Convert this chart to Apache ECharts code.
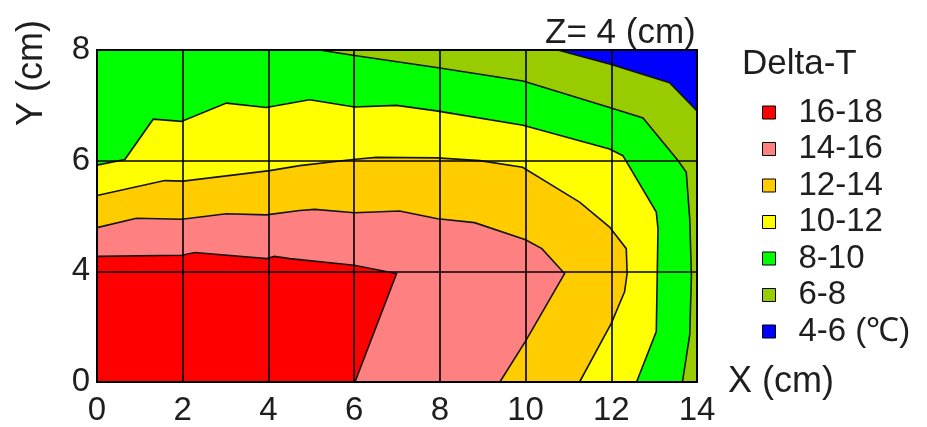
<!DOCTYPE html>
<html>
<head>
<meta charset="utf-8">
<script src="https://cdn.jsdelivr.net/npm/echarts@6/dist/echarts.min.js"></script>
<style>html,body{margin:0;padding:0;background:#fff;}#c{width:927px;height:427px;}</style>
</head>
<body>
<div id="c"></div>
<script>
// ---- data ----
const xTicks = [0, 2, 4, 6, 8, 10, 12, 14];
const yTicks = [0, 4, 6, 8];           // y rows (cm), drawn evenly spaced
const bandNames = ['16-18', '14-16', '12-14', '10-12', '8-10', '6-8', '4-6 (℃)'];
// contour lines [x cm, y cm], lower bound of each band
const contour16 = [[0,4.27],[1.98,4.29],[2.28,4.34],[3.96,4.23],[4.14,4.27],[4.5,4.23],[6.0,4.11],[6.99,3.92],[6.02,0]];
const contour14 = [[0,4.79],[0.92,4.96],[1.98,4.94],[3.02,5.04],[3.95,5.02],[4.73,5.10],[5.08,5.12],[6.01,5.06],[7.06,5.09],[7.95,4.95],[8.81,4.88],[10.0,4.57],[10.38,4.41],[10.91,3.92],[10.0,1.48],[9.40,0]];
const contour12 = [[0,5.37],[1.58,5.64],[2.01,5.63],[4.03,5.82],[4.73,5.91],[5.97,6.02],[6.52,6.06],[7.93,6.05],[8.93,6.00],[9.93,5.88],[11.26,5.25],[11.73,4.95],[11.96,4.80],[12.35,4.41],[12.37,3.92],[12.31,3.26],[12.0,2.12],[11.26,0]];
const contour10 = [[0,5.92],[0.65,6.02],[1.31,6.75],[1.97,6.71],[3.02,7.04],[3.95,6.96],[4.96,7.10],[6.01,6.97],[6.99,7.00],[7.92,6.90],[9.94,6.64],[11.96,6.21],[12.27,6.09],[13.05,5.07],[13.09,4.77],[13.05,1.82],[12.59,0]];
const contour8 = [[5.19,8],[6.01,7.90],[7.96,7.68],[9.94,7.44],[11.96,6.96],[12.74,6.77],[13.56,6.00],[13.75,5.79],[13.83,4.95],[13.87,3.86],[13.83,1.70],[13.66,0]];
const contour6 = [[10.75,8],[12.0,7.74],[13.36,7.41],[14.0,6.90]];
const contour4 = [];

// ---- styles ----
const bandColors = ['#FF0000', '#FF8080', '#FFCC00', '#FFFF00', '#00FF00', '#99CC00', '#0000FF'];
const contours = [contour16, contour14, contour12, contour10, contour8, contour6, contour4];
const FONT = 'Liberation Sans';
const TXT = '#1e1e1e';

const xMax = xTicks[xTicks.length - 1], yMax = yTicks[yTicks.length - 1];
function yPos(v) {
  for (let i = 0; i < yTicks.length - 1; i++) {
    if (v <= yTicks[i + 1]) return i + (v - yTicks[i]) / (yTicks[i + 1] - yTicks[i]);
  }
  return yTicks.length - 1;
}
function bandPolygon(line) {
  if (!line.length) return [[0,0],[xMax,0],[xMax,yMax],[0,yMax]];
  const pts = line.slice();
  const start = line[0], end = line[line.length - 1];
  if (end[0] === xMax && end[1] > 0) pts.push([xMax, 0]);
  pts.push([0, 0]);
  if (start[1] === yMax && start[0] > 0) pts.push([0, yMax]);
  return pts;
}

const series = [];
for (let k = contours.length - 1; k >= 0; k--) {
  const line = contours[k];
  const poly = bandPolygon(line);
  series.push({
    type: 'custom',
    name: bandNames[k],
    coordinateSystem: 'cartesian2d',
    z: 2 + (contours.length - k),
    itemStyle: { color: bandColors[k], borderColor: '#000', borderWidth: 1 },
    data: [[0, 0]],
    silent: true,
    renderItem: function (params, api) {
      const P = poly.map(p => api.coord([p[0], yPos(p[1])]));
      const L = line.map(p => api.coord([p[0], yPos(p[1])]));
      const children = [{ type: 'polygon', shape: { points: P }, style: { fill: bandColors[k], stroke: null } }];
      if (L.length) children.push({ type: 'polyline', shape: { points: L }, style: { stroke: '#141414', lineWidth: 1.6, fill: null } });
      return { type: 'group', children: children };
    }
  });
}

const chart = echarts.init(document.getElementById('c'), null, { renderer: 'canvas' });
chart.setOption({
  animation: false,
  backgroundColor: '#fff',
  grid: { left: 97, top: 50, width: 600, height: 334, show: true, borderColor: '#000', borderWidth: 2, backgroundColor: 'transparent', z: 20 },
  xAxis: {
    type: 'value', min: xTicks[0], max: xMax, interval: 2, z: 20,
    axisLine: { show: false }, axisTick: { show: false },
    splitLine: { show: true, lineStyle: { color: '#000', width: 1.6 } },
    axisLabel: { fontFamily: FONT, fontSize: 33, color: TXT, margin: 12 },
    name: 'X (cm)', nameLocation: 'end', nameGap: 31,
    nameTextStyle: { fontFamily: FONT, fontSize: 36, color: TXT, align: 'left', verticalAlign: 'middle' }
  },
  yAxis: {
    type: 'value', min: 0, max: yTicks.length - 1, interval: 1, z: 20,
    axisLine: { show: false }, axisTick: { show: false },
    splitLine: { show: true, lineStyle: { color: '#000', width: 1.6 } },
    axisLabel: { fontFamily: FONT, fontSize: 33, color: TXT, margin: 7, formatter: v => String(yTicks[v]) }
  },
  legend: {
    orient: 'vertical', left: 762, top: 96, padding: 0,
    data: bandNames,
    icon: 'rect', itemWidth: 13, itemHeight: 13, itemGap: 3.5,
    itemStyle: { borderColor: '#000', borderWidth: 1 },
    textStyle: { fontFamily: FONT, fontSize: 33, color: TXT, padding: [0, 0, 0, 18] },
    selectedMode: false
  },
  graphic: [
    { type: 'text', x: 32, y: 73, rotation: Math.PI / 2, style: { text: 'Y (cm)', fontFamily: FONT, fontSize: 36, fill: TXT, align: 'center', verticalAlign: 'middle' } },
    { type: 'text', x: 545, y: 33, style: { text: 'Z= 4 (cm)', fontFamily: FONT, fontSize: 35, fill: TXT, align: 'left', verticalAlign: 'middle' } },
    { type: 'text', x: 742, y: 64, style: { text: 'Delta-T', fontFamily: FONT, fontSize: 35, fill: TXT, align: 'left', verticalAlign: 'middle' } }
  ],
  series: series
});
</script>
</body>
</html>
